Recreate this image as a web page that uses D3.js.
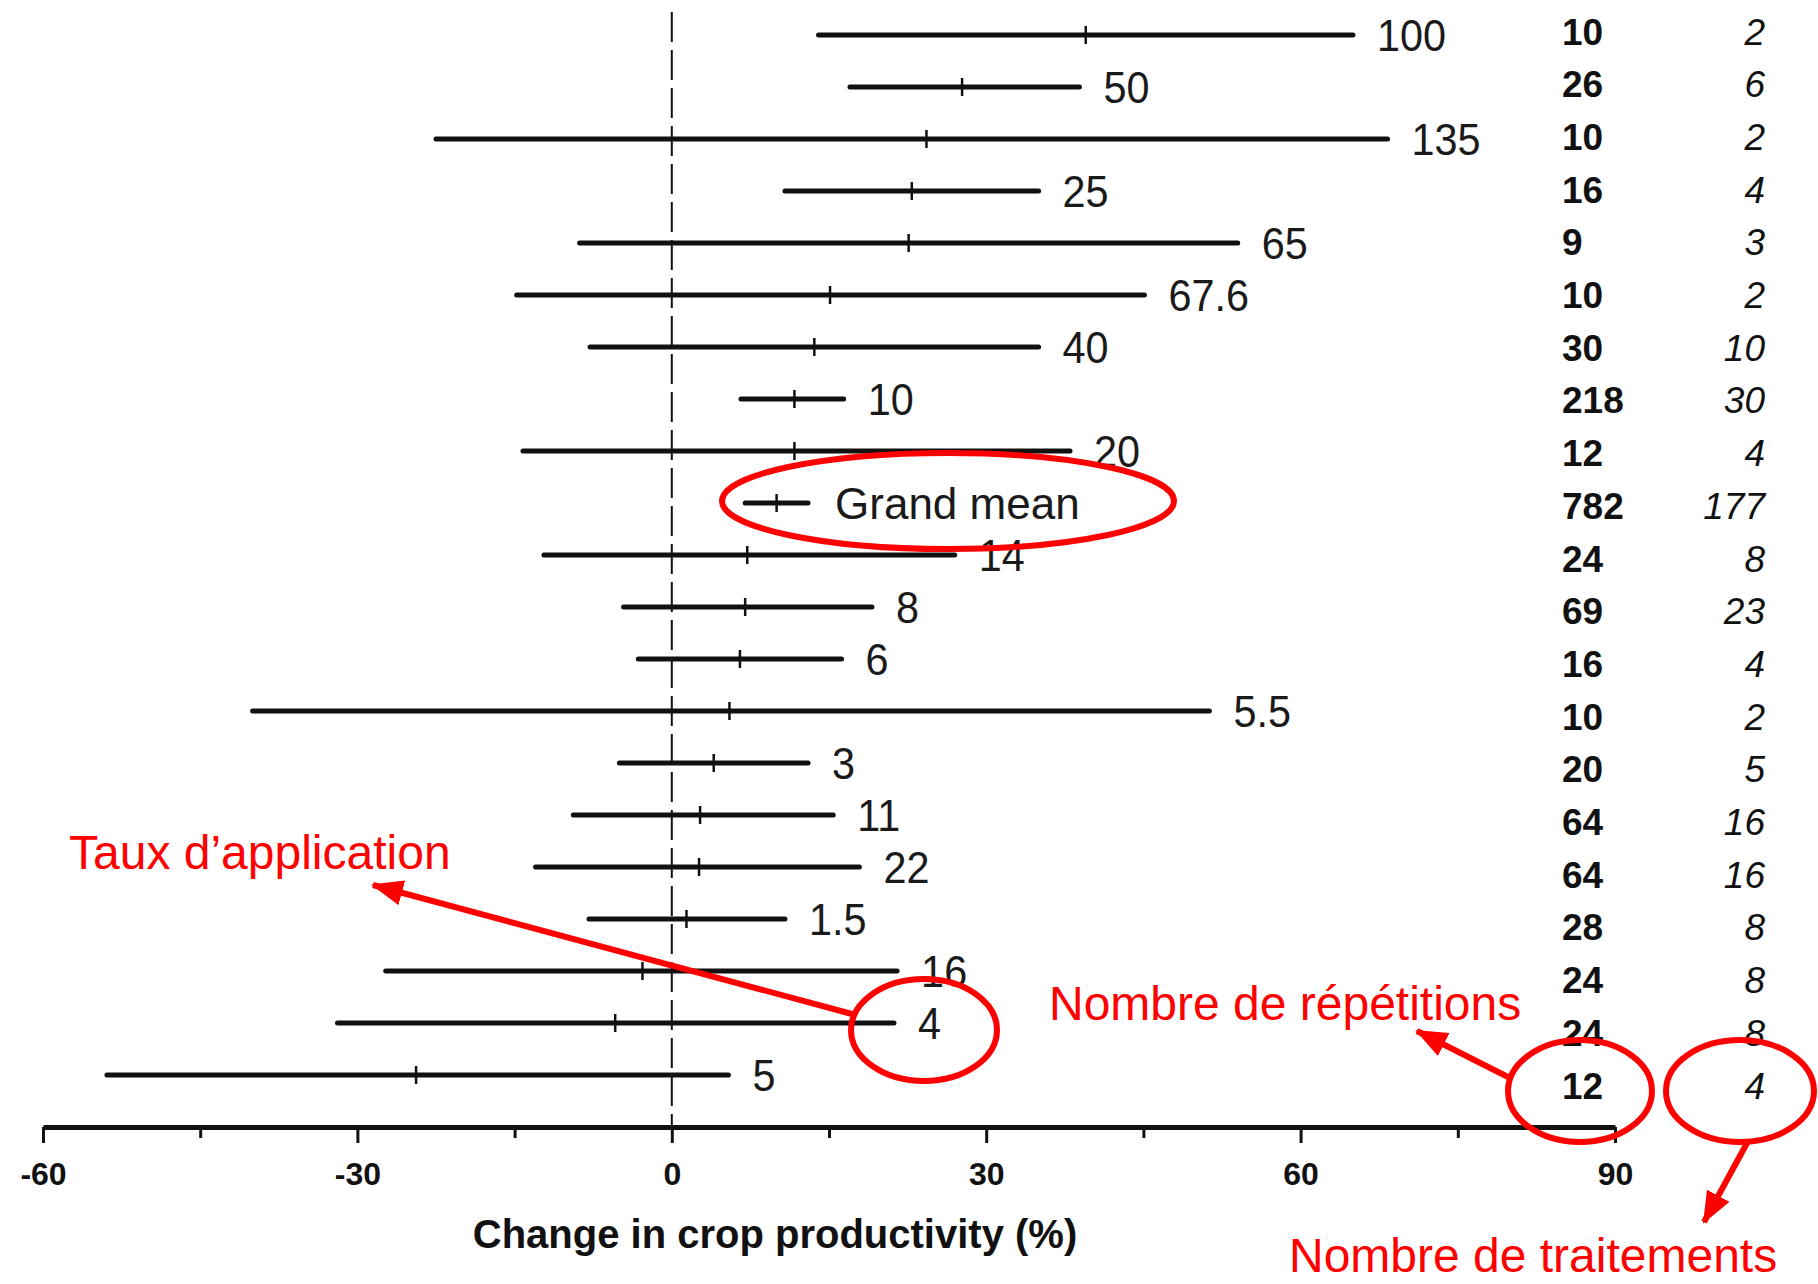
<!DOCTYPE html>
<html>
<head>
<meta charset="utf-8">
<script src="https://cdn.jsdelivr.net/npm/d3@7"></script>
<style>
  body { margin: 0; background: #fff; }
  svg { display: block; }
</style>
</head>
<body>
<div id="chart"></div>
<script>
// application rate labels (top to bottom)
const rates = ['100', '50', '135', '25', '65', '67.6', '40', '10', '20', 'Grand mean',
  '14', '8', '6', '5.5', '3', '11', '22', '1.5', '16', '4', '5'];
// 95% CI bounds and means, change in crop productivity (%)
const lowCI = [14.0, 17.0, -22.5, 10.8, -8.8, -14.8, -7.8, 6.6, -14.2, 7.0,
  -12.2, -4.6, -3.2, -40.0, -5.0, -9.4, -13.0, -7.9, -27.3, -31.9, -53.9];
const highCI = [65.0, 38.9, 68.3, 35.0, 54.0, 45.1, 35.0, 16.4, 38.0, 13.0,
  27.0, 19.1, 16.2, 51.3, 13.0, 15.4, 17.9, 10.8, 21.5, 21.2, 5.4];
const means = [39.5, 27.7, 24.3, 22.9, 22.6, 15.1, 13.6, 11.7, 11.7, 10.0,
  7.2, 7.0, 6.5, 5.5, 4.0, 2.7, 2.6, 1.4, -2.8, -5.4, -24.4];
// number of replicates / number of treatments
const replicates = [10, 26, 10, 16, 9, 10, 30, 218, 12, 782, 24, 69, 16, 10, 20, 64, 64, 28, 24, 24, 12];
const treatments = [2, 6, 2, 4, 3, 2, 10, 30, 4, 177, 8, 23, 4, 2, 5, 16, 16, 8, 8, 8, 4];
const majorTicks = [-60, -30, 0, 30, 60, 90];
const minorTicks = [-45, -15, 15, 45, 75];

const W = 1818, H = 1284;
const FONT = 'Liberation Sans, Arial, sans-serif';
const RED = '#ff0000';

const svg = d3.select('#chart').append('svg')
  .attr('width', W).attr('height', H);

const x = d3.scaleLinear().domain([-60, 90]).range([43, 1615]);
const y = d3.scalePoint().domain(d3.range(rates.length)).range([35, 1075]);
const yTable = d3.scalePoint().domain(d3.range(rates.length)).range([32, 1086]);
const axisY = 1127;

// dashed zero line
svg.append('line')
  .attr('x1', x(0)).attr('x2', x(0))
  .attr('y1', 12).attr('y2', axisY)
  .attr('stroke', '#111').attr('stroke-width', 2)
  .attr('stroke-dasharray', '30,8');

const rows = rates.map((r, i) => ({
  i, rate: r, lo: lowCI[i], hi: highCI[i], mean: means[i],
  rep: replicates[i], trt: treatments[i]
}));

const g = svg.append('g');

g.selectAll('line.ci').data(rows).join('line')
  .attr('class', 'ci')
  .attr('x1', d => x(d.lo)).attr('x2', d => x(d.hi))
  .attr('y1', d => y(d.i)).attr('y2', d => y(d.i))
  .attr('stroke', '#111').attr('stroke-width', 5)
  .attr('stroke-linecap', 'round');

g.selectAll('line.mean').data(rows).join('line')
  .attr('class', 'mean')
  .attr('x1', d => x(d.mean)).attr('x2', d => x(d.mean))
  .attr('y1', d => y(d.i) - 9).attr('y2', d => y(d.i) + 9)
  .attr('stroke', '#111').attr('stroke-width', 2.5);

// rate labels
g.selectAll('text.rate').data(rows).join('text')
  .attr('class', 'rate')
  .attr('transform', d => d.rate === 'Grand mean'
    ? `translate(${x(d.hi) + 27},${y(d.i)})`
    : `translate(${x(d.hi) + 24},${y(d.i)}) scale(0.92,1)`)
  .attr('dominant-baseline', 'central')
  .style('font-family', FONT)
  .style('font-size', d => d.rate === 'Grand mean' ? '44px' : '45px')
  .style('fill', '#1a1a1a')
  .text(d => d.rate);

// table columns
g.selectAll('text.rep').data(rows).join('text')
  .attr('class', 'rep')
  .attr('x', 1562).attr('y', d => yTable(d.i))
  .attr('dominant-baseline', 'central')
  .style('font-family', FONT).style('font-weight', 'bold')
  .style('font-size', '37px').style('fill', '#111')
  .text(d => d.rep);

g.selectAll('text.trt').data(rows).join('text')
  .attr('class', 'trt')
  .attr('x', 1765).attr('y', d => yTable(d.i))
  .attr('text-anchor', 'end')
  .attr('dominant-baseline', 'central')
  .style('font-family', FONT).style('font-style', 'italic')
  .style('font-size', '37px').style('fill', '#111')
  .text(d => d.trt);

// x axis
const axisG = svg.append('g').attr('transform', `translate(0,${axisY})`);
axisG.call(d3.axisBottom(x).tickValues(majorTicks).tickFormat(d => String(d))
  .tickSize(16).tickSizeOuter(0).tickPadding(19));
axisG.select('.domain').attr('stroke', '#111').attr('stroke-width', 5);
axisG.selectAll('.tick line').attr('stroke', '#111').attr('stroke-width', 3);
axisG.selectAll('.tick text')
  .style('font-family', FONT).style('font-weight', 'bold')
  .style('font-size', '32px').style('fill', '#111');

const minorG = svg.append('g').attr('transform', `translate(0,${axisY})`);
minorG.call(d3.axisBottom(x).tickValues(minorTicks).tickSize(11).tickFormat(''));
minorG.select('.domain').remove();
minorG.selectAll('.tick line').attr('stroke', '#111').attr('stroke-width', 3);

svg.append('text')
  .attr('x', 775).attr('y', 1248)
  .attr('text-anchor', 'middle')
  .style('font-family', FONT).style('font-weight', 'bold')
  .style('font-size', '40px').style('fill', '#111')
  .text('Change in crop productivity (%)');

// red annotations
svg.append('defs').append('marker')
  .attr('id', 'arrow')
  .attr('markerUnits', 'userSpaceOnUse')
  .attr('viewBox', '0 0 30 24')
  .attr('refX', 28).attr('refY', 12)
  .attr('markerWidth', 32).attr('markerHeight', 26)
  .attr('orient', 'auto')
  .append('path')
  .attr('d', 'M0,0 L30,12 L0,24 Z')
  .attr('fill', RED);

const ellipses = [
  { cx: 948, cy: 501, rx: 226, ry: 48 },
  { cx: 924, cy: 1030, rx: 73, ry: 51 },
  { cx: 1580, cy: 1091, rx: 72, ry: 51 },
  { cx: 1740, cy: 1091, rx: 74, ry: 51 }
];
svg.selectAll('ellipse.note').data(ellipses).join('ellipse')
  .attr('class', 'note')
  .attr('cx', d => d.cx).attr('cy', d => d.cy)
  .attr('rx', d => d.rx).attr('ry', d => d.ry)
  .attr('fill', 'none').attr('stroke', RED).attr('stroke-width', 6);

const arrows = [
  { x1: 852, y1: 1014, x2: 373, y2: 885 },
  { x1: 1508, y1: 1077, x2: 1417, y2: 1031 },
  { x1: 1747, y1: 1143, x2: 1704, y2: 1222 }
];
svg.selectAll('line.arrow').data(arrows).join('line')
  .attr('class', 'arrow')
  .attr('x1', d => d.x1).attr('y1', d => d.y1)
  .attr('x2', d => d.x2).attr('y2', d => d.y2)
  .attr('stroke', RED).attr('stroke-width', 6)
  .attr('marker-end', 'url(#arrow)');

const notes = [
  { x: 69, y: 869, text: 'Taux d\u2019application' },
  { x: 1049, y: 1020, text: 'Nombre de répétitions' },
  { x: 1289, y: 1272, text: 'Nombre de traitements' }
];
svg.selectAll('text.note').data(notes).join('text')
  .attr('class', 'note')
  .attr('x', d => d.x).attr('y', d => d.y)
  .style('font-family', FONT).style('font-size', '48px').style('fill', RED)
  .text(d => d.text);
</script>
</body>
</html>
